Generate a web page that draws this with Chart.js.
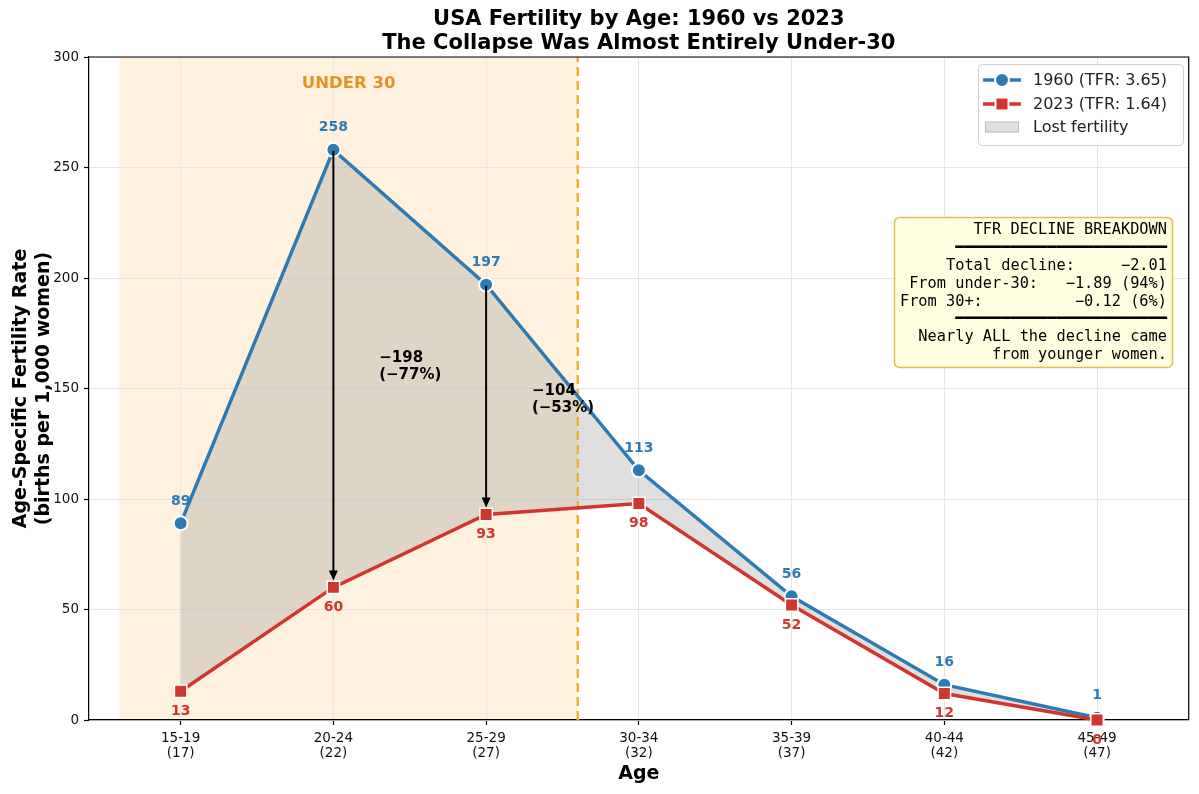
<!DOCTYPE html>
<html><head><meta charset="utf-8">
<script src="https://cdn.jsdelivr.net/npm/chart.js@4.4.1/dist/chart.umd.min.js"></script>
<style>html,body{margin:0;padding:0;background:#fff;} canvas{display:block;}</style>
</head><body>
<canvas id="c" width="1199" height="794"></canvas>
<script>
// ---------------- data ----------------
const ageGroups = ['15-19','20-24','25-29','30-34','35-39','40-44','45-49'];
const midAges   = [17, 22, 27, 32, 37, 42, 47];
const rates1960 = [89, 258, 197, 113, 56, 16, 1];
const rates2023 = [13, 60, 93, 98, 52, 12, 0];
const yTickValues = [0, 50, 100, 150, 200, 250, 300];
const under30Span = [15, 30];
const arrowIdx = [1, 2];            // 20-24 and 25-29
const titleLines = ['USA Fertility by Age: 1960 vs 2023', 'The Collapse Was Almost Entirely Under-30'];
const yTitleLines = ['Age-Specific Fertility Rate', '(births per 1,000 women)'];

// derived TFR values (sum of ASFR * 5 / 1000)
const tfr = a => a.reduce((s, v) => s + v, 0) * 5 / 1000;
const tfr1960 = tfr(rates1960), tfr2023 = tfr(rates2023);
const under = midAges.map((m, i) => m < 30 ? rates1960[i] - rates2023[i] : 0).reduce((s, v) => s + v, 0) * 5 / 1000;
const over  = midAges.map((m, i) => m >= 30 ? rates1960[i] - rates2023[i] : 0).reduce((s, v) => s + v, 0) * 5 / 1000;
const total = tfr1960 - tfr2023;

const BLUE = '#2E7BB4', RED = '#D0352E', ORANGE_LINE = '#F0B030', ORANGE_TXT = '#E39422';
const FONT = '"DejaVu Sans", sans-serif';
const MONO = '"DejaVu Sans Mono", monospace';

const boxLines = [
  'TFR DECLINE BREAKDOWN',
  '━'.repeat(23),
  'Total decline:     \u2212' + total.toFixed(2),
  'From under-30:   \u2212' + under.toFixed(2) + ' (' + Math.round(under / total * 100) + '%)',
  'From 30+:          \u2212' + over.toFixed(2) + ' (' + Math.round(over / total * 100) + '%)',
  '━'.repeat(23),
  'Nearly ALL the decline came',
  'from younger women.'
];

const decorPlugin = {
  id: 'decor',
  afterLayout(chart) {
    const tb = chart.titleBlock, a = chart.chartArea;
    if (tb) { tb.left = a.left; tb.right = a.right; }
  },
  beforeDraw(chart) {
    const {ctx, chartArea: a, scales: {x}} = chart;
    ctx.save();
    ctx.fillStyle = '#fff';
    ctx.fillRect(0, 0, chart.width, chart.height);
    const x0 = x.getPixelForValue(under30Span[0]), x1 = x.getPixelForValue(under30Span[1]);
    ctx.fillStyle = 'rgba(245,166,35,0.15)';
    ctx.fillRect(x0, a.top, x1 - x0, a.bottom - a.top);
    ctx.restore();
  },
  beforeDatasetsDraw(chart) {
    const {ctx, chartArea: a, scales: {x, y}} = chart;
    ctx.save();
    const xd = x.getPixelForValue(under30Span[1]);
    ctx.strokeStyle = ORANGE_LINE; ctx.lineWidth = 2.5; ctx.setLineDash([9, 5]);
    ctx.beginPath(); ctx.moveTo(xd, a.bottom); ctx.lineTo(xd, a.top); ctx.stroke();
    ctx.setLineDash([]);
    ctx.strokeStyle = '#000'; ctx.lineWidth = 1.2;
    ctx.beginPath(); ctx.moveTo(a.left, a.top); ctx.lineTo(a.right, a.top); ctx.lineTo(a.right, a.bottom); ctx.stroke();
    ctx.fillStyle = ORANGE_TXT; ctx.font = 'bold 16.5px ' + FONT;
    ctx.textAlign = 'center'; ctx.textBaseline = 'middle';
    ctx.fillText('UNDER 30', x.getPixelForValue((under30Span[0] + under30Span[1]) / 2), y.getPixelForValue(288));
    ctx.restore();
  },
  afterDatasetsDraw(chart) {
    const {ctx, scales: {x, y}} = chart;
    ctx.save();
    arrowIdx.forEach(i => {
      const px = x.getPixelForValue(midAges[i]);
      const y1 = y.getPixelForValue(rates1960[i]) + 1;
      const y2 = y.getPixelForValue(rates2023[i]) - 7;
      ctx.strokeStyle = '#000'; ctx.fillStyle = '#000'; ctx.lineWidth = 2;
      ctx.beginPath(); ctx.moveTo(px, y1); ctx.lineTo(px, y2 - 8); ctx.stroke();
      ctx.beginPath(); ctx.moveTo(px, y2); ctx.lineTo(px - 4.5, y2 - 10); ctx.lineTo(px + 4.5, y2 - 10); ctx.closePath(); ctx.fill();
    });
    const ann = [{i: 1, x: 23.5, y: 160}, {i: 2, x: 28.5, y: 145}];
    ctx.font = 'bold 15px ' + FONT; ctx.fillStyle = '#000';
    ctx.textAlign = 'left'; ctx.textBaseline = 'middle';
    ann.forEach(a => {
      const d = rates1960[a.i] - rates2023[a.i];
      const pct = Math.round(d / rates1960[a.i] * 100);
      const px = x.getPixelForValue(a.x), py = y.getPixelForValue(a.y);
      ctx.fillText('\u2212' + d, px, py - 8.5);
      ctx.fillText('(\u2212' + pct + '%)', px, py + 8.5);
    });
    ctx.font = 'bold 14px ' + FONT; ctx.textAlign = 'center';
    midAges.forEach((m, i) => {
      const px = x.getPixelForValue(m);
      ctx.fillStyle = BLUE;
      ctx.fillText(String(rates1960[i]), px, y.getPixelForValue(rates1960[i]) - 22);
      ctx.fillStyle = RED;
      ctx.fillText(String(rates2023[i]), px, y.getPixelForValue(rates2023[i]) + 20);
    });
    ctx.restore();
  },
  afterDraw(chart) {
    const {ctx} = chart;
    ctx.save();
    ctx.fillStyle = 'rgba(255,255,255,0.85)'; ctx.strokeStyle = '#d0d0d0'; ctx.lineWidth = 1;
    ctx.beginPath(); ctx.roundRect(978.5, 64.5, 205, 81, 4); ctx.fill(); ctx.stroke();
    const items = [
      {label: '1960 (TFR: ' + tfr1960.toFixed(2) + ')', color: BLUE, style: 'circle', yy: 80},
      {label: '2023 (TFR: ' + tfr2023.toFixed(2) + ')', color: RED, style: 'rect', yy: 104},
      {label: 'Lost fertility', style: 'patch', yy: 127}
    ];
    items.forEach(it => {
      if (it.style === 'patch') {
        ctx.fillStyle = 'rgba(128,128,128,0.25)';
        ctx.fillRect(985, it.yy - 5.5, 34, 11);
        ctx.strokeStyle = 'rgba(128,128,128,0.35)'; ctx.lineWidth = 1;
        ctx.strokeRect(985.5, it.yy - 5, 33, 10);
      } else {
        ctx.strokeStyle = it.color; ctx.lineWidth = 3.5;
        ctx.beginPath(); ctx.moveTo(983, it.yy); ctx.lineTo(1021, it.yy); ctx.stroke();
        ctx.fillStyle = it.color; ctx.strokeStyle = '#fff'; ctx.lineWidth = 2;
        ctx.beginPath();
        if (it.style === 'circle') ctx.arc(1002, it.yy, 7, 0, Math.PI * 2);
        else ctx.rect(1002 - 6.5, it.yy - 6.5, 13, 13);
        ctx.fill(); ctx.stroke();
      }
      ctx.fillStyle = '#222'; ctx.font = '16px ' + FONT;
      ctx.textAlign = 'left'; ctx.textBaseline = 'middle';
      ctx.fillText(it.label, 1033, it.yy + 1);
    });
    ctx.fillStyle = '#FFFFE0'; ctx.strokeStyle = 'rgba(218,165,32,0.75)'; ctx.lineWidth = 1.5;
    ctx.beginPath(); ctx.roundRect(894.5, 217.5, 278, 150, 5); ctx.fill(); ctx.stroke();
    ctx.fillStyle = '#000'; ctx.font = '15.3px ' + MONO;
    ctx.textAlign = 'right'; ctx.textBaseline = 'middle';
    boxLines.forEach((t, k) => ctx.fillText(t, 1167, 230 + k * 17.9));
    ctx.restore();
  }
};

new Chart(document.getElementById('c'), {
  type: 'line',
  data: {
    datasets: [
      {
        label: '1960', data: midAges.map((m, i) => ({x: m, y: rates1960[i]})),
        borderColor: BLUE, backgroundColor: 'rgba(128,128,128,0.25)', fill: 1, order: 1,
        borderWidth: 3.5, tension: 0, clip: false,
        pointStyle: 'circle', pointRadius: 7, pointBackgroundColor: BLUE, pointBorderColor: '#fff', pointBorderWidth: 2
      },
      {
        label: '2023', data: midAges.map((m, i) => ({x: m, y: rates2023[i]})),
        borderColor: RED, backgroundColor: RED, fill: false, order: 0,
        borderWidth: 3.5, tension: 0, clip: false,
        pointStyle: 'rect', pointRadius: 8.8, pointBackgroundColor: RED, pointBorderColor: '#fff', pointBorderWidth: 1.5
      }
    ]
  },
  options: {
    responsive: false, animation: false, devicePixelRatio: 1,
    layout: {padding: {left: 0, right: 10, top: 0, bottom: 0}},
    events: [],
    plugins: {
      legend: {display: false}, tooltip: {enabled: false},
      filler: {drawTime: 'beforeDatasetsDraw', propagate: false},
      title: {display: true, text: titleLines, color: '#000',
        font: {family: FONT, size: 21, weight: 'bold', lineHeight: '24px'}, padding: {top: 8, bottom: 1}}
    },
    scales: {
      x: {
        type: 'linear', min: 14, max: 50,
        afterBuildTicks: s => { s.ticks = midAges.map(v => ({value: v})); },
        afterFit: s => { s.height = 74; },
        ticks: {
          autoSkip: false, maxRotation: 0, color: '#111', padding: 6,
          font: {family: FONT, size: 13.5, lineHeight: 1.1},
          callback: v => { const i = midAges.indexOf(v); return i >= 0 ? [ageGroups[i], '(' + v + ')'] : ''; }
        },
        grid: {color: '#e6e6e6', lineWidth: 1, tickLength: 5, tickColor: '#000', tickWidth: 1.2},
        border: {color: '#000', width: 1.2},
        title: {display: true, text: 'Age', color: '#000', font: {family: FONT, size: 19, weight: 'bold'}, padding: {top: 0, bottom: 9}}
      },
      y: {
        min: 0, max: 300,
        afterBuildTicks: s => { s.ticks = yTickValues.map(v => ({value: v})); },
        afterFit: s => { s.width = 89; },
        ticks: {color: '#111', padding: 5, font: {family: FONT, size: 13.5}},
        grid: {color: '#e6e6e6', lineWidth: 1, tickLength: 5, tickColor: '#000', tickWidth: 1.2},
        border: {color: '#000', width: 1.2},
        title: {display: true, text: yTitleLines, color: '#000', font: {family: FONT, size: 19, weight: 'bold', lineHeight: 1.2}, padding: {top: 9.6, bottom: 0}}
      }
    }
  },
  plugins: [decorPlugin]
});
</script>
</body></html>
